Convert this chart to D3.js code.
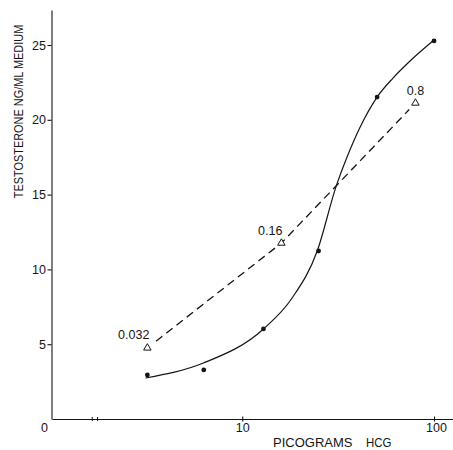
<!DOCTYPE html>
<html><head><meta charset="utf-8">
<script src="https://cdn.jsdelivr.net/npm/d3@7"></script>
<style>
body{margin:0;background:#fff}
svg{display:block}
text{font-family:"Liberation Sans",Arial,sans-serif;fill:#151515}
</style>
</head><body><svg id="c" width="453" height="450"></svg>
<script>
// ---- data ----
const doseDots = [3.2, 6.3, 12.9, 25, 50.5, 100];
const testosteroneDots = [2.94, 3.28, 6.02, 11.23, 21.52, 25.27];
const doseTriangles = [3.2, 16, 80];
const testosteroneTriangles = [4.75, 11.76, 21.12];
const triangleLabels = ["0.032", "0.16", "0.8"];
const fitDose = [3.13, 6.27, 12.9, 18.2, 24.6, 30.9, 35.2, 41.2, 50.5, 61.1, 75.0, 100];
const fitTestosterone = [2.74, 3.74, 6.02, 8.09, 11.23, 15.57, 17.51, 19.52, 21.52, 22.79, 23.93, 25.33];
const xTickValues = [1, 10, 100];
const xTickLabels = ["0", "10", "100"];
const yTickValues = [5, 10, 15, 20, 25];
const yTickLabels = ["5", "10", "15", "20", "25"];
const xMinorMarks = [1.65, 1.76];
const xTitleWords = ["PICOGRAMS", "HCG"];
const yTitle = "TESTOSTERONE NG/ML MEDIUM";

// ---- drawing ----
const svg = d3.select("#c");
svg.append("rect").attr("width", 453).attr("height", 450).attr("fill", "#fff");
const ink = "#151515";
const font = "'Liberation Sans',Arial,sans-serif";

const x = d3.scaleLog().domain([1, 125.6]).range([50.5, 453]);
const y = d3.scaleLinear().domain([0, 27.34]).range([419, 10]);

// y axis
const yAxis = svg.append("g").attr("transform", "translate(51.5,0)")
  .call(d3.axisLeft(y).tickValues(yTickValues).tickFormat((d, i) => yTickLabels[i])
    .tickSize(4).tickSizeOuter(0).tickPadding(1.5));
yAxis.selectAll("path,line").attr("stroke", ink).attr("stroke-width", 1.1);
yAxis.selectAll("text").attr("font-size", 12.5).attr("fill", ink).attr("font-family", font);

// x axis
const xAxis = svg.append("g").attr("transform", `translate(0,${y(0)})`)
  .call(d3.axisBottom(x).tickValues(xTickValues).tickFormat((d, i) => xTickLabels[i])
    .tickSize(2.5).tickSizeOuter(0).tickPadding(1.5));
xAxis.select(".domain").attr("d", `M${x(1) + 2},0.5H453`);
xAxis.selectAll("path,line").attr("stroke", ink).attr("stroke-width", 1.1);
xAxis.selectAll(".tick line").attr("y1", -2.5);
xAxis.selectAll("text").attr("font-size", 12.5).attr("fill", ink).attr("font-family", font);
xAxis.selectAll(".tick").filter(d => d === 1).select("line").remove();
xAxis.selectAll(".tick").filter(d => d === 1).select("text")
  .attr("text-anchor", "end").attr("dx", -3);
xAxis.selectAll(".tick").filter(d => d === 100).select("text").attr("dx", 2);
xAxis.selectAll(".minor").data(xMinorMarks).join("line")
  .attr("x1", d => x(d)).attr("x2", d => x(d)).attr("y1", -2).attr("y2", 2)
  .attr("stroke", ink).attr("stroke-width", 1);

// axis titles
svg.append("text")
  .attr("transform", "translate(23,111.5) rotate(-90) scale(0.84,1)")
  .attr("text-anchor", "middle").attr("font-size", 13)
  .text(yTitle);
svg.append("text").attr("x", 273).attr("y", 447).attr("font-size", 13).text(xTitleWords[0]);
svg.append("text").attr("x", 366).attr("y", 447).attr("font-size", 13)
  .attr("transform", "translate(366,0) scale(0.88,1) translate(-366,0)").text(xTitleWords[1]);

// fitted solid curve
const fit = fitDose.map((d, i) => [d, fitTestosterone[i]]);
svg.append("path")
  .attr("d", d3.line().x(d => x(d[0])).y(d => y(d[1])).curve(d3.curveMonotoneX)(fit))
  .attr("fill", "none").attr("stroke", ink).attr("stroke-width", 1.2);

// dashed line through triangles (trimmed near the end markers)
const tri = doseTriangles.map((d, i) => [x(d), y(testosteroneTriangles[i])]);
function trim(a, b, t) {
  const dx = b[0] - a[0], dy = b[1] - a[1], L = Math.hypot(dx, dy);
  return [a[0] + dx / L * t, a[1] + dy / L * t];
}
const dashPts = tri.slice();
dashPts[0] = trim(tri[0], tri[1], 11);
dashPts[dashPts.length - 1] = trim(tri[tri.length - 1], tri[tri.length - 2], 9);
svg.append("path")
  .attr("d", d3.line()(dashPts))
  .attr("fill", "none").attr("stroke", ink).attr("stroke-width", 1.3)
  .attr("stroke-dasharray", "8,5");

// dots
svg.selectAll(".dot").data(doseDots).join("circle")
  .attr("cx", d => x(d)).attr("cy", (d, i) => y(testosteroneDots[i]))
  .attr("r", 2.4).attr("fill", ink);

// triangles
svg.selectAll(".tri").data(tri).join("path")
  .attr("transform", d => `translate(${d[0]},${d[1]})`)
  .attr("d", d3.symbol(d3.symbolTriangle, 24)())
  .attr("fill", "#fff").attr("stroke", ink).attr("stroke-width", 1);

// triangle labels
const labelAnchor = ["end", "end", "middle"];
const labelShift = [2, 1, 0];
svg.selectAll(".tl").data(triangleLabels).join("text")
  .attr("x", (d, i) => tri[i][0] + labelShift[i])
  .attr("y", (d, i) => tri[i][1] - 8.5)
  .attr("text-anchor", (d, i) => labelAnchor[i])
  .attr("font-size", 12.5)
  .text(d => d);
</script>
</body></html>
